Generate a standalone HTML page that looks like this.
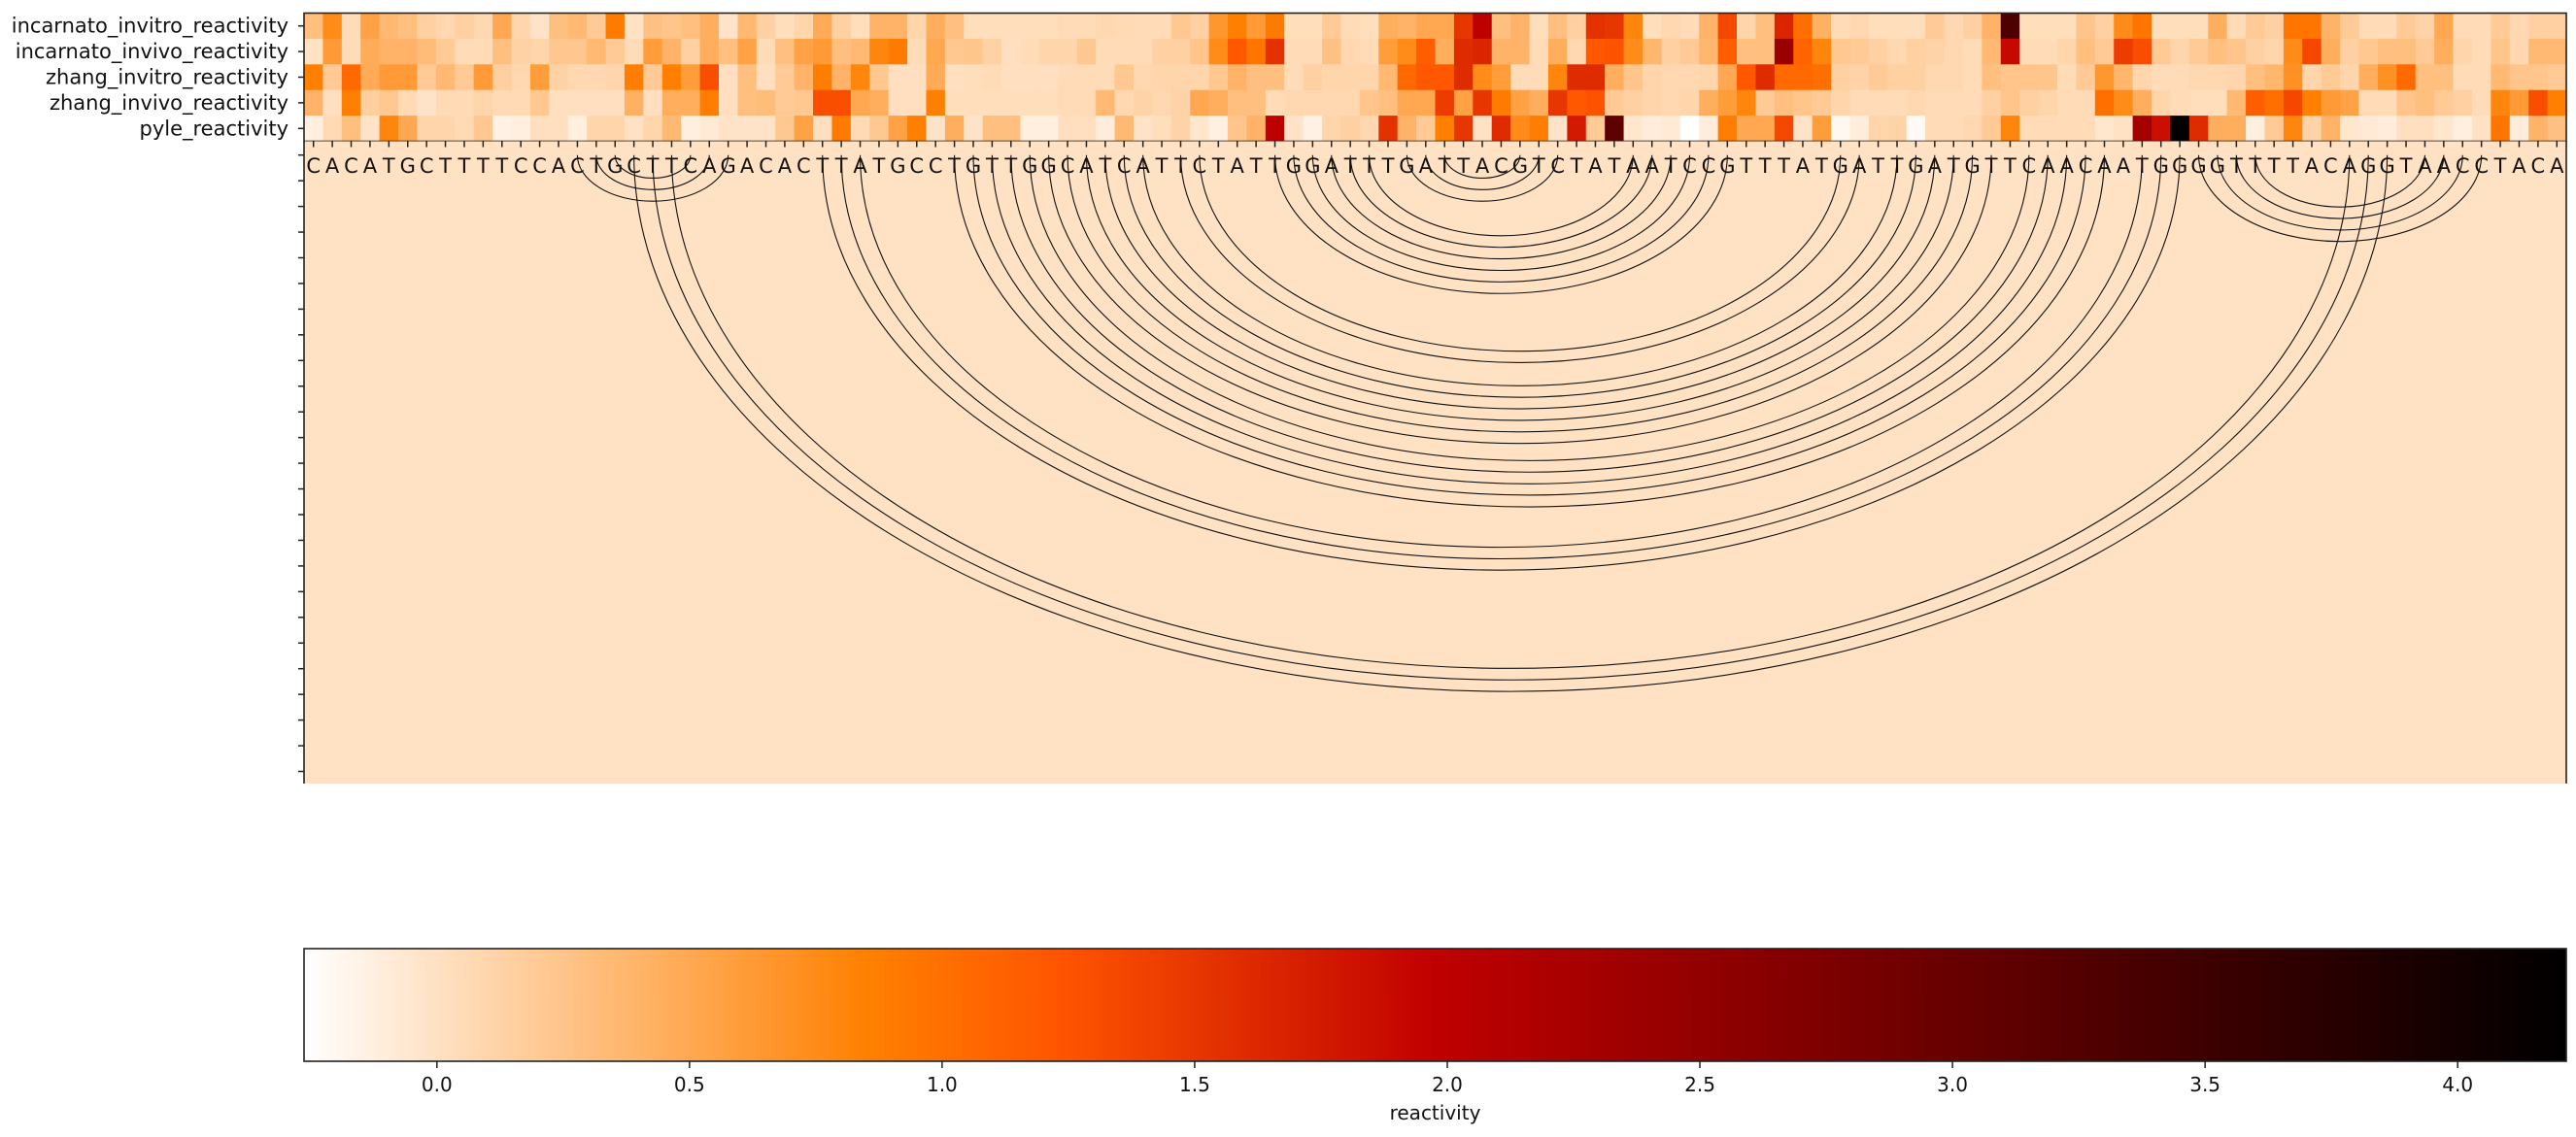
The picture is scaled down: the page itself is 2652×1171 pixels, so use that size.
<!DOCTYPE html>
<html><head><meta charset="utf-8"><style>
html,body{margin:0;padding:0;background:#fff;}
svg{display:block;font-family:"DejaVu Sans","Liberation Sans",sans-serif;}
</style></head><body>
<svg id="chart" width="2652" height="1171" viewBox="0 0 2652 1171" xmlns="http://www.w3.org/2000/svg">
<defs><linearGradient id="cbgrad" x1="0" x2="1" y1="0" y2="0"></linearGradient></defs>
<g id="heat"></g>
<g id="lower"></g>
<g id="cbar"></g>
</svg>
<script>
const sequence = "CACATGCTTTTCCACTGCTTCAGACACTTATGCCTGTTGGCATCATTCTATTGGATTTGATTACGTCTATAATCCGTTTATGATTGATGTTCAACAATGGGGTTTTACAGGTAACCTACA";
const rowLabels = ["incarnato_invitro_reactivity","incarnato_invivo_reactivity","zhang_invitro_reactivity","zhang_invivo_reactivity","pyle_reactivity"];
const incarnatoInvitro = [0.3,0.75,0.05,0.55,0.35,0.3,0.15,0.08,0.15,0.08, 0.5,0.1,-0.02,0.3,0.35,0.2,0.9,0.0,0.28,0.25, 0.3,0.45,-0.02,0.35,0.15,0.03,0.1,0.48,0.15,0.03, 0.4,0.4,0.1,0.45,0.3,0.03,0.03,0.03,0.03,0.03,
 0.05,0.05,0.08,0.06,0.05,0.05,0.22,0.15,0.65,0.85, 0.62,0.9,0.03,0.03,0.2,0.05,0.03,0.45,0.4,0.5, 0.5,1.5,2.0,0.3,0.4,0.03,0.3,0.15,1.55,1.5, 0.8,0.03,0.08,0.05,0.4,1.35,0.1,0.3,1.65,1.0,
 0.42,0.05,0.08,0.03,0.03,0.03,0.2,0.08,0.15,0.4, 3.3,0.03,0.03,0.03,0.25,0.15,0.75,0.95,0.03,0.03, 0.03,0.45,0.05,0.2,0.15,0.95,0.95,0.4,0.2,0.05, 0.05,0.2,0.12,0.5,0.05,0.05,0.2,0.08,0.15,0.15];
const incarnatoInvivo = [0.0,0.62,0.05,0.47,0.4,0.4,0.33,0.2,0.05,0.05, 0.3,0.13,0.1,0.23,0.23,0.35,0.2,0.05,0.6,0.4, 0.15,0.45,0.3,0.55,0.05,0.3,0.55,0.62,0.3,0.35, 0.8,0.9,0.05,0.5,0.22,0.24,0.13,0.02,0.05,0.1,
 0.1,0.22,0.05,0.05,0.05,0.15,0.15,0.25,0.75,1.2, 0.95,1.55,0.05,0.05,0.28,0.08,0.05,0.6,0.75,1.15, 0.45,1.6,1.65,0.4,0.4,0.05,0.45,0.08,1.2,1.25, 0.75,0.38,0.15,0.2,0.38,1.15,0.3,0.3,2.4,1.1,
 0.8,0.22,0.2,0.15,0.08,0.15,0.12,0.08,0.05,0.35, 1.9,0.05,0.05,0.1,0.3,0.2,1.45,1.3,0.2,0.1, 0.2,0.3,0.25,0.15,0.1,0.75,1.35,0.45,0.15,0.22, 0.3,0.3,0.2,0.45,0.1,0.05,0.25,0.08,0.35,0.35];
const zhangInvitro = [0.85,0.2,1.05,0.48,0.62,0.62,0.2,0.35,0.2,0.62, 0.16,0.08,0.6,0.13,0.08,0.08,0.1,0.88,0.2,0.85, 0.6,1.3,0.02,0.3,0.02,0.2,0.4,0.88,0.4,0.8, 0.22,0.02,0.02,0.48,0.02,0.03,0.05,0.02,0.02,0.02,
 0.05,0.05,0.05,0.22,0.08,0.1,0.1,0.1,0.22,0.4, 0.3,0.3,0.05,0.15,0.1,0.1,0.1,0.35,1.05,1.2, 1.2,1.6,0.75,0.6,0.05,0.05,0.8,1.6,1.6,0.45, 0.25,0.1,0.08,0.08,0.1,0.5,1.2,1.6,1.05,1.05,
 1.0,0.15,0.12,0.2,0.15,0.15,0.08,0.08,0.05,0.3, 0.25,0.25,0.25,0.05,0.2,0.65,0.38,0.1,0.05,0.05, 0.08,0.08,0.1,0.3,0.38,0.7,0.1,0.2,0.1,0.45, 0.7,1.05,0.3,0.3,0.05,0.05,0.35,0.25,0.25,0.2];
const zhangInvivo = [0.4,0.02,0.85,0.16,0.22,0.06,-0.02,0.06,0.06,0.1, 0.06,0.06,0.22,0.02,0.02,0.02,0.02,0.42,0.02,0.45, 0.45,0.88,0.02,0.3,0.32,0.2,0.22,1.3,1.3,0.5, 0.45,0.02,0.02,0.85,0.03,0.03,0.03,0.03,0.03,0.03,
 0.05,0.05,0.35,0.08,0.12,0.08,0.12,0.5,0.45,0.3, 0.3,0.05,0.08,0.08,0.08,0.08,0.25,0.3,0.5,0.5, 1.45,0.55,1.5,0.9,0.55,0.45,1.5,1.2,1.25,0.2, 0.15,0.1,0.08,0.1,0.45,0.6,0.8,0.2,0.3,0.25,
 0.2,0.1,0.05,0.05,0.05,0.08,0.05,0.05,0.05,0.15, 0.25,0.15,0.1,0.05,0.05,1.0,0.75,0.45,0.1,0.05, 0.03,0.03,0.35,1.15,1.0,1.35,0.85,0.62,0.55,0.05, 0.05,0.25,0.3,0.2,0.15,0.05,0.8,0.62,1.3,0.85];
const pyle = [-0.12,0.06,0.3,-0.02,0.8,0.5,0.1,0.1,0.06,0.22, -0.15,-0.12,0.02,0.02,-0.12,0.1,0.1,0.0,0.1,0.35, -0.12,-0.08,-0.02,-0.02,-0.02,0.22,0.55,0.02,0.9,0.06, 0.22,0.55,0.85,-0.02,0.45,-0.02,0.3,0.3,-0.12,-0.12,
 0.02,0.02,-0.1,0.35,-0.02,0.03,0.12,-0.05,-0.13,0.25, 0.4,2.0,-0.02,-0.15,0.1,0.15,0.08,1.55,0.4,0.2, 0.85,1.5,0.0,1.6,0.75,0.88,-0.02,1.75,0.2,3.1, -0.05,-0.1,-0.08,-0.26,-0.1,0.88,0.5,0.5,1.35,-0.02,
 0.6,-0.2,-0.1,0.1,0.12,-0.22,0.05,0.05,0.08,0.2, 0.8,0.05,0.05,0.05,0.05,-0.05,0.0,2.3,1.85,4.2, 1.6,0.45,0.45,-0.12,0.2,0.8,0.12,0.4,-0.05,-0.08, -0.1,0.02,0.02,-0.05,-0.12,0.0,0.95,-0.1,0.4,0.28];
const pairLeft  = [14,15,16, 17,18,19, 27,28,29,34,35,36,37,38,39,40,41,42,43,44,46,47,51,52,53,54,55,56, 58,59,60, 100,101,102,103];
const pairRight = [22,21,20, 110,109,108, 99,98,97,95,94,93,92,91,89,88,87,86,85,84,82,81,75,74,73,72,71,70, 66,65,64, 115,114,113,112];
const cbTicks = [0.0,0.5,1.0,1.5,2.0,2.5,3.0,3.5,4.0];
const cbTickLabels = ["0.0","0.5","1.0","1.5","2.0","2.5","3.0","3.5","4.0"];

const rows = [incarnatoInvitro, incarnatoInvivo, zhangInvitro, zhangInvivo, pyle];
const NS = "http://www.w3.org/2000/svg";
const VMIN = -0.263, VMAX = 4.215;
const X0 = 313, X1 = 2642, N = sequence.length, CW = (X1 - X0) / N;
const HY0 = 13.5, HY1 = 145.5, RH = (HY1 - HY0) / rows.length;
const LY1 = 807, ARC_Y0 = 159.7, ARC_K = 5.94;
const CBY0 = 977, CBY1 = 1093;
function xCell(i){ return X0 + i * CW; }
function xCenter(i){ return X0 + (i + 0.5) * CW; }
function yRow(r){ return HY0 + r * RH; }
function xCb(v){ return X0 + (v - VMIN) / (VMAX - VMIN) * (X1 - X0); }
function cmap(v){
  let t = (v - VMIN) / (VMAX - VMIN); t = Math.max(0, Math.min(1, t));
  const x = 1 - t;
  const r = Math.min(1, 1.5 * x), g = Math.max(0, Math.min(1, 2 * x - 1)), b = Math.max(0, Math.min(1, 4 * x - 3));
  return "rgb(" + Math.round(r*255) + "," + Math.round(g*255) + "," + Math.round(b*255) + ")";
}
function mk(tag, attrs, parent){
  const e = document.createElementNS(NS, tag);
  for (const k in attrs) e.setAttribute(k, attrs[k]);
  parent.appendChild(e); return e;
}
const heat = document.getElementById("heat");
const lower = document.getElementById("lower");
const cbar = document.getElementById("cbar");

rows.forEach((vals, r) => {
  vals.forEach((v, i) => {
    const c = mk("rect", {x: xCell(i), y: yRow(r), width: CW + 0.6, height: RH + 0.6, fill: cmap(v)}, heat);
    
    
  });
  const tk = mk("line", {x1: X0 - 6, x2: X0, y1: yRow(r) + RH/2, y2: yRow(r) + RH/2, stroke: "#222", "stroke-width": 1.5}, heat);
  
  
  const lb = mk("text", {x: X0 - 16, y: yRow(r) + RH/2 + 7, "text-anchor": "end", "font-size": 21, fill: "#111"}, heat);
  lb.textContent = rowLabels[r];
  
  
});
const hb = mk("rect", {x: X0, y: HY0, width: X1 - X0, height: HY1 - HY0, fill: "none", stroke: "#222", "stroke-width": 1.6}, heat);



const bg = mk("rect", {x: X0, y: HY1, width: X1 - X0, height: LY1 - HY1, fill: cmap(0)}, lower);


for (let k = 0; ARC_Y0 + k * 26.45 <= LY1; k++) {
  const y = ARC_Y0 + k * 26.45;
  const t = mk("line", {x1: X0 - 6, x2: X0, y1: y, y2: y, stroke: "#222", "stroke-width": 1.5}, lower);
  
  
}
for (let i = 0; i < N; i++) {
  const t = mk("line", {x1: xCenter(i), x2: xCenter(i), y1: HY1, y2: HY1 + 6, stroke: "#222", "stroke-width": 1.5}, lower);
  
  
}
pairLeft.forEach((a, k) => {
  const b = pairRight[k];
  const rx = (b - a) * CW / 2, ry = ARC_K * (b - a);
  const p = mk("path", {d: "M" + xCenter(a) + "," + ARC_Y0 + " A" + rx + "," + ry + " 0 0 0 " + xCenter(b) + "," + ARC_Y0, fill: "none", stroke: "#111", "stroke-width": 1.1}, lower);
  
  
});
for (let i = 0; i < N; i++) {
  const t = mk("text", {x: xCenter(i), y: 178, "text-anchor": "middle", "font-size": 21, fill: "#111"}, lower);
  t.textContent = sequence[i];
  
  
}
const ls = mk("line", {x1: X0, x2: X0, y1: HY1, y2: LY1, stroke: "#222", "stroke-width": 1.6}, lower);


const rs = mk("line", {x1: X1, x2: X1, y1: HY1, y2: LY1, stroke: "#222", "stroke-width": 1.6}, lower);



const grad = document.getElementById("cbgrad");
for (let s = 0; s <= 60; s++) {
  const v = VMIN + (VMAX - VMIN) * s / 60;
  mk("stop", {offset: (s / 60 * 100) + "%", "stop-color": cmap(v)}, grad);
}
const cbRect = mk("rect", {x: X0, y: CBY0, width: X1 - X0, height: CBY1 - CBY0, fill: "url(#cbgrad)", stroke: "#222", "stroke-width": 1.6}, cbar);


cbTicks.forEach((v, k) => {
  const t = mk("line", {x1: xCb(v), x2: xCb(v), y1: CBY1, y2: CBY1 + 7, stroke: "#222", "stroke-width": 1.5}, cbar);
  
  
  const l = mk("text", {x: xCb(v), y: 1124, "text-anchor": "middle", "font-size": 20, fill: "#111"}, cbar);
  l.textContent = cbTickLabels[k];
  
  
});
const cbl = mk("text", {x: (X0 + X1) / 2, y: 1153, "text-anchor": "middle", "font-size": 20, fill: "#111"}, cbar);
cbl.textContent = "reactivity";


</script>
</body></html>
